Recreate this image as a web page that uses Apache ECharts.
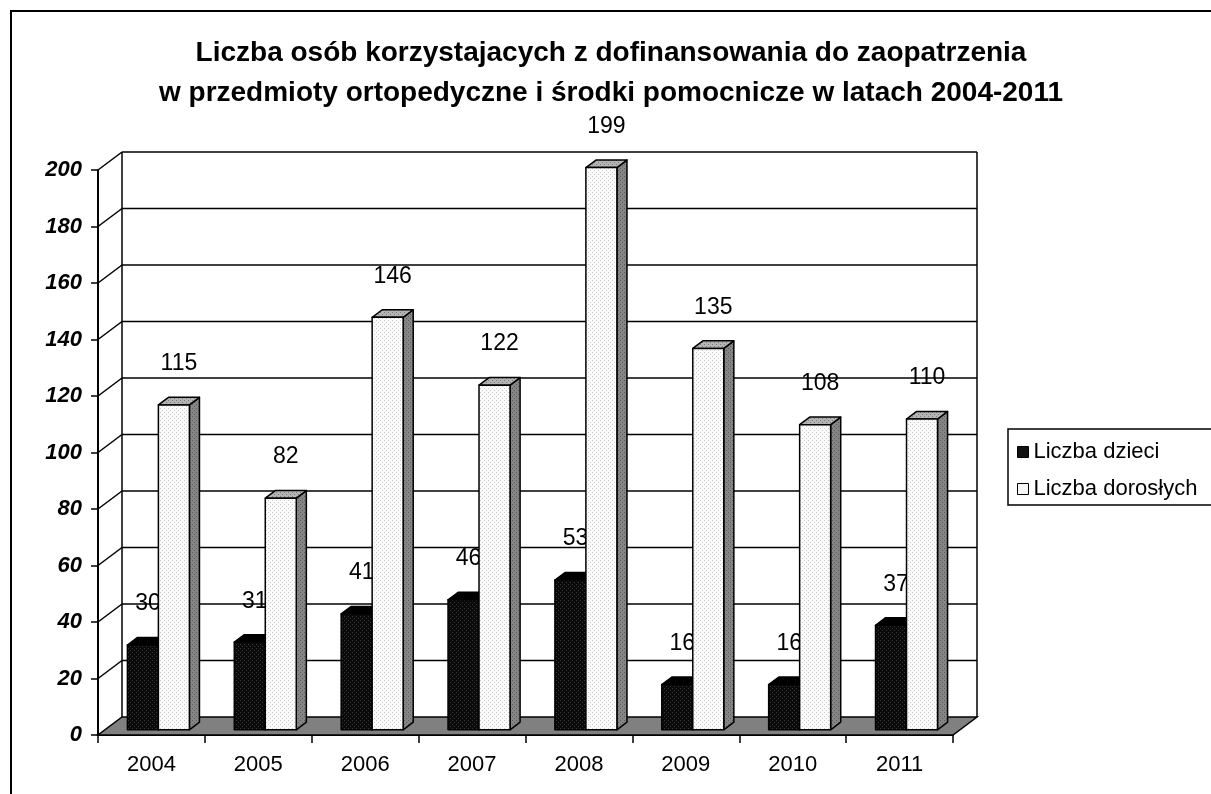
<!DOCTYPE html>
<html>
<head>
<meta charset="utf-8">
<script src="https://cdn.jsdelivr.net/npm/echarts@6/dist/echarts.min.js"></script>
<style>
html, body { margin: 0; padding: 0; background: #fff; }
#chart { width: 1211px; height: 794px; }
</style>
</head>
<body>
<div id="chart"></div>
<script>
// dane
const years = ['2004', '2005', '2006', '2007', '2008', '2009', '2010', '2011']
const dzieci = [30, 31, 41, 46, 53, 16, 16, 37]
const dorosli = [115, 82, 146, 122, 199, 135, 108, 110]
const yTicks = [0, 20, 40, 60, 80, 100, 120, 140, 160, 180, 200]

const FONT = "'Liberation Sans', Arial, sans-serif"
// glebia "3D": przesuniecie tylnej sciany
const DEPTH = [24, -18]
const FRONT = [DEPTH[0] * 0.29, DEPTH[1] * 0.29]
const BACK = [DEPTH[0] * 0.71, DEPTH[1] * 0.71]
const BAR_FRAC = 0.29

// kropkowane wypelnienie jak w Excelu
function dots(bg, fg) {
  const c = document.createElement('canvas')
  c.width = 4
  c.height = 4
  const g = c.getContext('2d')
  g.fillStyle = bg
  g.fillRect(0, 0, 4, 4)
  g.fillStyle = fg
  g.fillRect(0, 0, 1, 1)
  g.fillRect(2, 2, 1, 1)
  return { image: c, repeat: 'repeat' }
}

const faces = [
  { front: dots('#0a0a0a', '#3a3a3a'), top: '#000', side: '#000' },
  { front: dots('#fbfbfb', '#c8c8c8'), top: dots('#b4b4b4', '#7a7a7a'), side: dots('#858585', '#5a5a5a') }
]

function wallsItem(params, api) {
  const v = api.value(1)
  const cs = params.coordSys
  const x0 = cs.x
  const x1 = cs.x + cs.width
  const y = api.coord([0, v])[1]
  const line = { stroke: '#000', lineWidth: 1.5 }
  const children = []
  if (v === 0) {
    children.push({
      type: 'polygon',
      shape: { points: [[x0, y], [x1, y], [x1 + DEPTH[0], y + DEPTH[1]], [x0 + DEPTH[0], y + DEPTH[1]]] },
      style: { fill: '#808080', stroke: '#000', lineWidth: 1.5 }
    })
    return { type: 'group', children: children }
  }
  children.push({
    type: 'line',
    shape: { x1: x0 + DEPTH[0], y1: y + DEPTH[1], x2: x1 + DEPTH[0], y2: y + DEPTH[1] },
    style: line
  })
  children.push({
    type: 'line',
    shape: { x1: x0, y1: y, x2: x0 + DEPTH[0], y2: y + DEPTH[1] },
    style: line
  })
  if (v === yTicks[yTicks.length - 1]) {
    const yb = api.coord([0, 0])[1]
    children.push({
      type: 'line',
      shape: { x1: x0 + DEPTH[0], y1: y + DEPTH[1], x2: x0 + DEPTH[0], y2: yb + DEPTH[1] },
      style: line
    })
    children.push({
      type: 'line',
      shape: { x1: x1 + DEPTH[0], y1: y + DEPTH[1], x2: x1 + DEPTH[0], y2: yb + DEPTH[1] },
      style: line
    })
  }
  return { type: 'group', children: children }
}

function barItem(slot) {
  const f = faces[slot]
  return function (params, api) {
    const cat = api.value(0)
    const v = api.value(1)
    const bw = api.size([1, 0])[0]
    const base = api.coord([cat, 0])
    const top = api.coord([cat, v])
    const w = bw * BAR_FRAC
    const xl = base[0] + (slot === 0 ? -w : 0) + FRONT[0]
    const yt = top[1] + FRONT[1]
    const yb = base[1] + FRONT[1]
    const dx = BACK[0] - FRONT[0]
    const dy = BACK[1] - FRONT[1]
    const edge = { stroke: '#000', lineWidth: 1.5, lineJoin: 'round' }
    return {
      type: 'group',
      children: [
        {
          type: 'polygon',
          shape: { points: [[xl + w, yt], [xl + w + dx, yt + dy], [xl + w + dx, yb + dy], [xl + w, yb]] },
          style: Object.assign({ fill: f.side }, edge)
        },
        {
          type: 'polygon',
          shape: { points: [[xl, yt], [xl + w, yt], [xl + w + dx, yt + dy], [xl + dx, yt + dy]] },
          style: Object.assign({ fill: f.top }, edge)
        },
        {
          type: 'rect',
          shape: { x: xl, y: yt, width: w, height: yb - yt },
          style: Object.assign({ fill: f.front }, edge)
        },
        {
          type: 'text',
          style: {
            text: String(v),
            x: xl + w / 2 + dx / 2,
            y: yt - 41,
            fill: '#000',
            font: '23px ' + FONT,
            textAlign: 'center',
            textVerticalAlign: 'middle'
          }
        }
      ]
    }
  }
}

const myChart = echarts.init(document.getElementById('chart'))
myChart.setOption({
  animation: false,
  backgroundColor: '#fff',
  textStyle: { fontFamily: FONT },
  title: {
    text: 'Liczba osób korzystajacych z dofinansowania do zaopatrzenia\nw przedmioty ortopedyczne i środki pomocnicze w latach 2004-2011',
    left: 606,
    top: 28,
    textAlign: 'center',
    textStyle: { fontSize: 28, fontWeight: 'bold', color: '#000', lineHeight: 40, fontFamily: FONT }
  },
  graphic: [{
    type: 'rect',
    silent: true,
    z: -10,
    shape: { x: 11, y: 11, width: 1400, height: 1000 },
    style: { fill: 'none', stroke: '#000', lineWidth: 2 }
  }],
  legend: {
    orient: 'vertical',
    left: 1008,
    top: 429,
    padding: [12, 40, 5, 9],
    itemWidth: 11,
    itemHeight: 11,
    itemGap: 15,
    borderColor: '#000',
    borderWidth: 1.5,
    borderRadius: 0,
    backgroundColor: '#fff',
    textStyle: { fontSize: 22, color: '#000', fontFamily: FONT },
    data: [
      { name: 'Liczba dzieci', icon: 'rect', itemStyle: { color: '#111', borderColor: '#000', borderWidth: 1 } },
      { name: 'Liczba dorosłych', icon: 'rect', itemStyle: { color: '#f6f6f6', borderColor: '#000', borderWidth: 1 } }
    ]
  },
  grid: { left: 98, right: 258, top: 170, bottom: 59 },
  xAxis: {
    type: 'category',
    data: years,
    boundaryGap: true,
    axisLine: { show: true, lineStyle: { color: '#000', width: 2 } },
    axisTick: { show: true, length: 8, alignWithLabel: false, lineStyle: { color: '#000', width: 1.5 } },
    axisLabel: { margin: 19, fontSize: 22, color: '#000', fontFamily: FONT },
    splitLine: { show: false }
  },
  yAxis: {
    type: 'value',
    min: 0,
    max: 200,
    interval: 20,
    axisLine: { show: true, lineStyle: { color: '#000', width: 2 } },
    axisTick: { show: true, length: 7, lineStyle: { color: '#000', width: 1.5 } },
    axisLabel: { margin: 16, fontSize: 22, fontWeight: 'bold', fontStyle: 'italic', color: '#000', fontFamily: FONT },
    splitLine: { show: false }
  },
  series: [
    {
      name: 'walls',
      type: 'custom',
      z: 1,
      silent: true,
      renderItem: wallsItem,
      encode: { x: 0, y: 1 },
      data: yTicks.map(v => [0, v])
    },
    {
      name: 'Liczba dzieci',
      type: 'custom',
      z: 2,
      itemStyle: { color: '#111' },
      renderItem: barItem(0),
      encode: { x: 0, y: 1 },
      data: dzieci.map((v, i) => [i, v])
    },
    {
      name: 'Liczba dorosłych',
      type: 'custom',
      z: 3,
      itemStyle: { color: '#f6f6f6' },
      renderItem: barItem(1),
      encode: { x: 0, y: 1 },
      data: dorosli.map((v, i) => [i, v])
    }
  ]
})
</script>
</body>
</html>
